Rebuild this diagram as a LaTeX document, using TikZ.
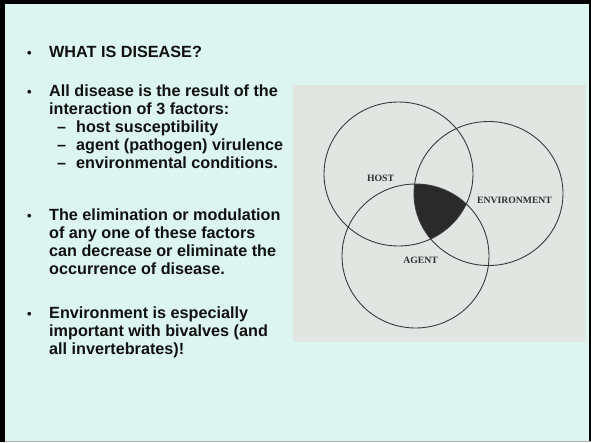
\documentclass[tikz,border=0pt]{standalone}
\usepackage{fontspec}
\setmainfont{Liberation Sans}
\newfontfamily\labfont{Liberation Serif}
\definecolor{slidebg}{HTML}{DCF5F1}
\definecolor{photobg}{HTML}{E2E6E3}
\definecolor{ink}{HTML}{111111}
\definecolor{venn}{HTML}{3A3A3A}
\definecolor{vennfill}{HTML}{2A2A2A}
\tikzset{
  txt/.style={anchor=base west, inner sep=0pt, text=ink, font=\fontsize{16.2}{18}\selectfont\bfseries},
  bul/.style={anchor=base west, inner sep=0pt, text=ink, font=\fontsize{13}{15}\selectfont\bfseries},
  lab/.style={inner sep=0pt, text=venn!80!black, font=\fontsize{9.7}{11}\selectfont\labfont\bfseries},
  ring/.style={draw=venn, line width=0.9pt}
}
\begin{document}
\begin{tikzpicture}[x=1pt,y=-1pt]
\useasboundingbox (0,0) rectangle (591,442);
% frame
\fill[black] (0,0) rectangle (591,442);
\fill[slidebg] (5,3.5) rectangle (588.5,440.5);
\fill[gray!60] (5,440.5) rectangle (591,442);
% photo
\fill[photobg] (292.5,85) rectangle (586,342);
% intersection
\begin{scope}
  \clip (398.5,174) ellipse [x radius=74.5pt, y radius=72pt];
  \clip (488.5,193.5) ellipse [x radius=74.5pt, y radius=72pt];
  \fill[vennfill] (415.5,256) ellipse [x radius=73.5pt, y radius=72pt];
\end{scope}
\draw[ring] (398.5,174) ellipse [x radius=74.5pt, y radius=72pt];
\draw[ring] (488.5,193.5) ellipse [x radius=74.5pt, y radius=72pt];
\draw[ring] (415.5,256) ellipse [x radius=73.5pt, y radius=72pt];
\node[lab] (host) at (380.5,178) {HOST};
\node[lab] (env) at (514.5,200) {ENVIRONMENT};
\node[lab] (agent) at (420.5,260) {AGENT};
% text
\node[bul] (b1) at (27,57) {•};
\node[txt] (t1) at (49,57) {WHAT IS DISEASE?};
\node[bul] (b2) at (27,96.5) {•};
\node[txt] (t2a) at (49,96.5) {All disease is the result of the};
\node[txt] (t2b) at (49,114.5) {interaction of 3 factors:};
\node[txt] (d1) at (57,132.5) {–};
\node[txt] (s1) at (76,132.5) {host susceptibility};
\node[txt] (d2) at (57,150.5) {–};
\node[txt] (s2) at (76,150.5) {agent (pathogen) virulence};
\node[txt] (d3) at (57,168.5) {–};
\node[txt] (s3) at (76,168.5) {environmental conditions.};
\node[bul] (b3) at (27,220) {•};
\node[txt] (t3a) at (49,220) {The elimination or modulation};
\node[txt] (t3b) at (49,238) {of any one of these factors};
\node[txt] (t3c) at (49,256) {can decrease or eliminate the};
\node[txt] (t3d) at (49,274) {occurrence of disease.};
\node[bul] (b4) at (27,318) {•};
\node[txt] (t4a) at (49,318) {Environment is especially};
\node[txt] (t4b) at (49,336) {important with bivalves (and};
\node[txt] (t4c) at (49,354) {all invertebrates)!};
\end{tikzpicture}
\end{document}
